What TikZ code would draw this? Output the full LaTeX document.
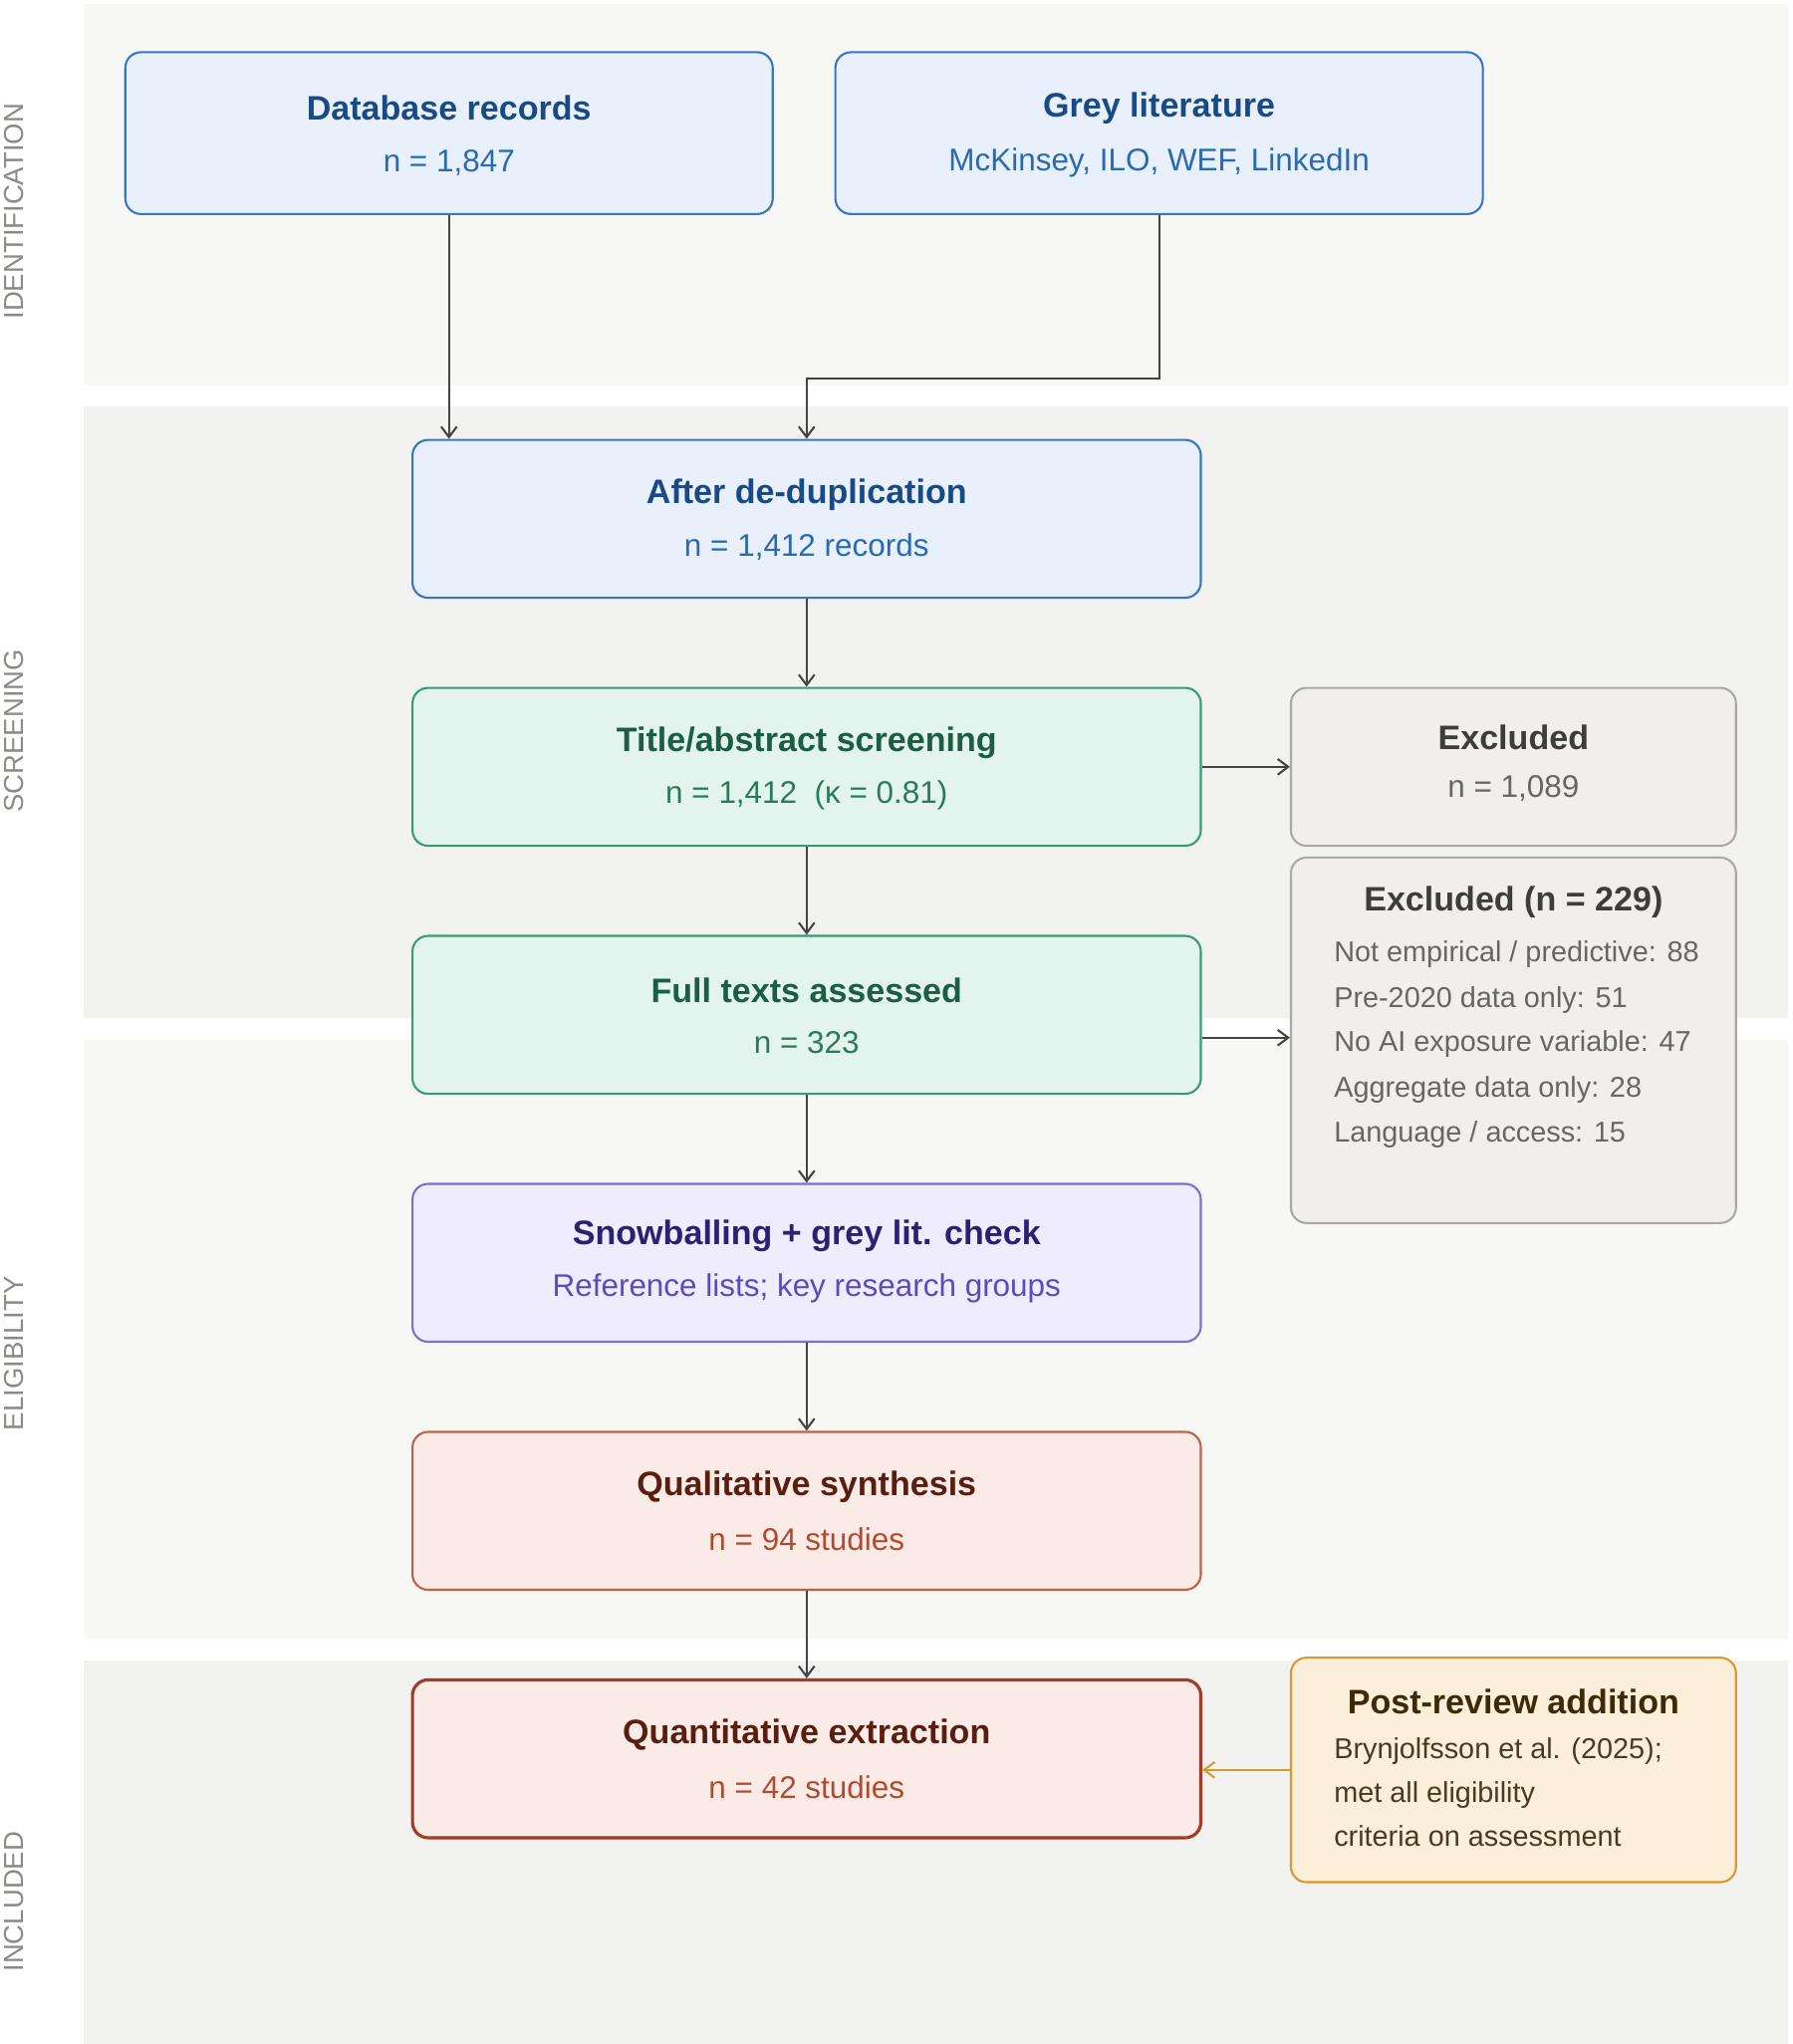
\documentclass[tikz,border=0pt]{standalone}
\usepackage{fontspec}
\setmainfont{Liberation Sans}
\usetikzlibrary{arrows.meta}
\definecolor{bandA}{HTML}{F7F7F6}
\definecolor{bandB}{HTML}{F2F2F1}
\definecolor{bfill}{HTML}{E8F0FB}\definecolor{bdraw}{HTML}{3A75C4}\definecolor{btit}{HTML}{1A4A85}\definecolor{btxt}{HTML}{2A6AB0}
\definecolor{gfill}{HTML}{E3F4EE}\definecolor{gdraw}{HTML}{3A9A78}\definecolor{gtit}{HTML}{1B5E45}\definecolor{gtxt}{HTML}{2A7A5A}
\definecolor{pfill}{HTML}{EEECFD}\definecolor{pdraw}{HTML}{7B6FD0}\definecolor{ptit}{HTML}{2A2270}\definecolor{ptxt}{HTML}{5A4CC0}
\definecolor{rfill}{HTML}{FBEBE6}\definecolor{rdraw}{HTML}{C0604A}\definecolor{rdraw2}{HTML}{A03C28}\definecolor{rtit}{HTML}{5A1E10}\definecolor{rtxt}{HTML}{B04A30}
\definecolor{xfill}{HTML}{F0EFEB}\definecolor{xdraw}{HTML}{A9A9A4}\definecolor{xtit}{HTML}{3D3D3A}\definecolor{xtxt}{HTML}{666662}
\definecolor{ofill}{HTML}{FCEFD9}\definecolor{odraw}{HTML}{D9992E}\definecolor{otit}{HTML}{3D2A0A}\definecolor{otxt}{HTML}{4A3A20}
\definecolor{arr}{HTML}{444444}
\definecolor{lab}{HTML}{8A8A86}
\begin{document}
\begin{tikzpicture}[x=0.5pt,y=-0.5pt,
  box/.style={rounded corners=6pt,line width=0.8pt,minimum width=302pt,minimum height=60.5pt,inner sep=0pt,align=center},
  blue/.style={box,fill=bfill,draw=bdraw},
  green/.style={box,fill=gfill,draw=gdraw},
  purple/.style={box,fill=pfill,draw=pdraw},
  red/.style={box,fill=rfill,draw=rdraw},
  grey/.style={box,fill=xfill,draw=xdraw,minimum width=170.5pt},
  tit/.style={font=\bfseries\fontsize{13}{15}\selectfont},
  sub/.style={font=\fontsize{12}{14}\selectfont},
  lst/.style={font=\fontsize{11}{13}\selectfont,anchor=west},
  side/.style={rotate=90,font=\fontsize{10.5}{12}\selectfont,text=lab},
  ar/.style={draw=arr,line width=0.8pt,-{Straight Barb[length=4pt,width=6pt]}}]
\useasboundingbox (0,0) rectangle (1373,1566);
\fill[bandA] (64,3) rectangle (1370,295);
\fill[bandB] (64,311) rectangle (1370,780);
\fill[bandA] (64,797) rectangle (1370,1255);
\fill[bandB] (64,1272) rectangle (1370,1566);
\node[side] (l1) at (11,162) {IDENTIFICATION};
\node[side] (l2) at (11,560) {SCREENING};
\node[side] (l3) at (11,1037) {ELIGIBILITY};
\node[side] (l4) at (11,1457) {INCLUDED};
\node[blue,minimum width=248pt,minimum height=62pt] (db) at (344,102) {};
\node[tit,text=btit] at (344,83) {Database records};
\node[sub,text=btxt] at (344,125) {n = 1,847};
\node[blue,minimum width=248pt,minimum height=62pt] (gl) at (888,102) {};
\node[tit,text=btit] at (888,83) {Grey literature};
\node[sub,text=btxt] at (888,125) {McKinsey, ILO, WEF, LinkedIn};
\node[blue] (dd) at (618,397.5) {};
\node[tit,text=btit] at (618,379) {After de-duplication};
\node[sub,text=btxt] at (618,419) {n = 1,412 records};
\node[green] (ta) at (618,587.5) {};
\node[tit,text=gtit] at (618,569) {Title/abstract screening};
\node[sub,text=gtxt] at (618,609) {n = 1,412\ \ (κ = 0.81)};
\node[green] (ft) at (618,777.5) {};
\node[tit,text=gtit] at (618,759) {Full texts assessed};
\node[sub,text=gtxt] at (618,799) {n = 323};
\node[purple] (sb) at (618,967.5) {};
\node[tit,text=ptit] at (618,947) {Snowballing + grey lit. check};
\node[sub,text=ptxt] at (618,987) {Reference lists; key research groups};
\node[red] (ql) at (618,1157.5) {};
\node[tit,text=rtit] at (618,1139) {Qualitative synthesis};
\node[sub,text=rtxt] at (618,1179) {n = 94 studies};
\node[red,draw=rdraw2,line width=1.2pt] (qn) at (618,1347.5) {};
\node[tit,text=rtit] at (618,1329) {Quantitative extraction};
\node[sub,text=rtxt] at (618,1369) {n = 42 studies};
\node[grey] (e1) at (1159.5,587.5) {};
\node[tit,text=xtit] at (1159.5,565) {Excluded};
\node[sub,text=xtxt] at (1159.5,604) {n = 1,089};
\node[grey,minimum height=140pt] (e2) at (1159.5,797) {};
\node[tit,text=xtit] at (1159.5,691) {Excluded (n = 229)};
\node[lst,text=xtxt] at (1015,731) {Not empirical / predictive: 88};
\node[lst,text=xtxt] at (1015,766) {Pre-2020 data only: 51};
\node[lst,text=xtxt] at (1015,800) {No AI exposure variable: 47};
\node[lst,text=xtxt] at (1015,835) {Aggregate data only: 28};
\node[lst,text=xtxt] at (1015,869) {Language / access: 15};
\node[grey,fill=ofill,draw=odraw,minimum height=86pt] (pr) at (1159.5,1356) {};
\node[tit,text=otit] at (1159.5,1304) {Post-review addition};
\node[lst,text=otxt] at (1015,1342) {Brynjolfsson et al. (2025);};
\node[lst,text=otxt] at (1015,1375) {met all eligibility};
\node[lst,text=otxt] at (1015,1407) {criteria on assessment};
\draw[ar] (db.south) -- (db.south |- dd.north);
\draw[ar] (gl.south) -- (888,290) -- (618,290) -- (dd.north);
\draw[ar] (dd) -- (ta);
\draw[ar] (ta) -- (ft);
\draw[ar] (ft) -- (sb);
\draw[ar] (sb) -- (ql);
\draw[ar] (ql) -- (qn);
\draw[ar] (ta.east) -- (e1.west);
\draw[ar] (ft.east |- 0,795) -- (e2.west |- 0,795);
\draw[ar,draw=odraw] (pr.west) -- (qn.east |- pr.west);
\end{tikzpicture}
\end{document}
